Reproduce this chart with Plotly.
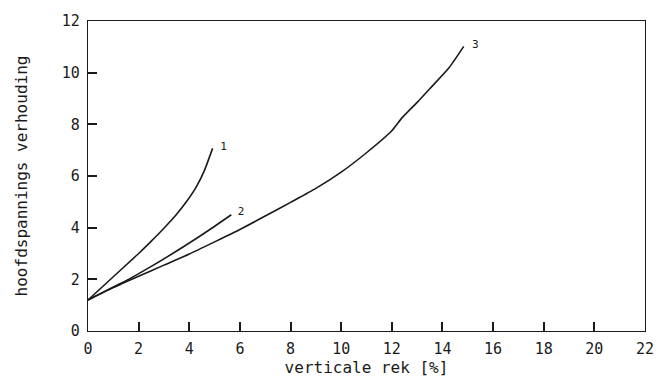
import plotly.graph_objects as go

# Vertical strain [%] and principal stress ratio for three tests
rek_1 = [0.0, 1.0, 2.0, 2.5, 3.0, 3.5, 3.9, 4.3, 4.6, 4.92]
verh_1 = [1.2, 2.1, 3.0, 3.48, 3.98, 4.52, 5.02, 5.62, 6.22, 7.07]

rek_2 = [0.0, 1.0, 1.6, 2.5, 3.8, 4.8, 5.66]
verh_2 = [1.2, 1.7, 2.0, 2.5, 3.28, 3.92, 4.5]

rek_3 = [0.0, 1.0, 2.0, 3.0, 4.0, 5.0, 6.0, 7.0, 8.0, 9.0, 10.0, 11.0,
         12.0, 12.4, 13.0, 13.5, 14.25, 14.84]
verh_3 = [1.2, 1.68, 2.12, 2.55, 2.98, 3.45, 3.93, 4.45, 4.98, 5.52, 6.15, 6.9,
          7.75, 8.25, 8.85, 9.38, 10.18, 11.02]

curve_labels = ["1", "2", "3"]
label_x = [5.35, 6.05, 15.3]
label_y = [7.1, 4.6, 11.05]

mono = "DejaVu Sans Mono"
ink = "#1a1a1a"

fig = go.Figure()
for xs, ys in [(rek_1, verh_1), (rek_2, verh_2), (rek_3, verh_3)]:
    fig.add_trace(go.Scatter(
        x=xs, y=ys, mode="lines",
        line=dict(color=ink, width=1.6, shape="spline", smoothing=0.6),
        showlegend=False, hoverinfo="skip",
    ))

fig.add_trace(go.Scatter(
    x=label_x, y=label_y, mode="text", text=curve_labels,
    textfont=dict(family=mono, size=11, color=ink),
    textposition="middle center", showlegend=False, hoverinfo="skip",
))

axis_common = dict(
    showgrid=False, zeroline=False,
    showline=True, linecolor=ink, linewidth=1.3, mirror=True,
    ticks="inside", ticklen=9, tickwidth=1.5, tickcolor=ink,
    tickfont=dict(family=mono, size=15, color=ink),
)

fig.update_xaxes(
    range=[0, 22], tickvals=list(range(0, 23, 2)),
    title=dict(text="verticale rek [%]", font=dict(family=mono, size=16, color=ink), standoff=2),
    ticklabelstandoff=4,
    **axis_common,
)
fig.update_yaxes(
    range=[0, 12], tickvals=list(range(0, 13, 2)),
    title=dict(text="hoofdspannings verhouding", font=dict(family=mono, size=16, color=ink), standoff=30),
    ticklabelstandoff=4,
    **axis_common,
)

fig.update_layout(
    width=666, height=385,
    margin=dict(l=88, r=18, t=20, b=54),
    paper_bgcolor="white", plot_bgcolor="white",
)

fig.write_html("out.html")
